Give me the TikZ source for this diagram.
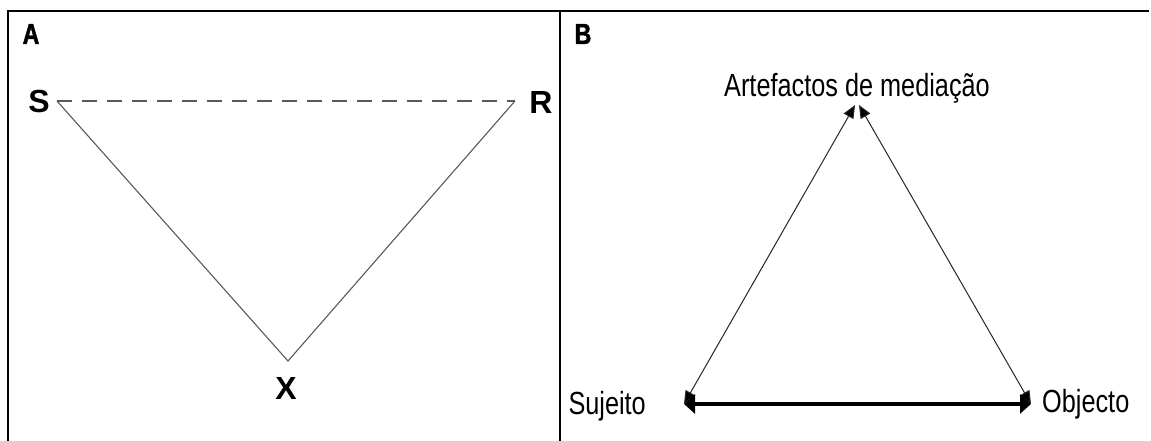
\documentclass[tikz,border=0pt]{standalone}
\usepackage{fontspec}
\setmainfont{Liberation Sans}
\newfontfamily\narrowfont[FakeStretch=0.79]{Liberation Sans}
\newfontfamily\panelfont[FakeStretch=0.8,BoldFeatures={FakeBold=1.5}]{Liberation Sans}
\usetikzlibrary{arrows.meta}
\begin{document}
\begin{tikzpicture}[x=1pt,y=-1pt,
  frame/.style={line width=2pt,black},
  panellabel/.style={inner sep=0pt,font=\panelfont\bfseries\fontsize{29}{34}\selectfont},
  vlabel/.style={inner sep=0pt,font=\bfseries\fontsize{32}{37}\selectfont},
  tlabel/.style={inner sep=0pt,font=\narrowfont\fontsize{32}{38}\selectfont},
  thinline/.style={line width=1.1pt,black!65},
  medline/.style={line width=1pt,black!85,{Triangle[length=13pt,width=11pt,fill=black]}-{Triangle[length=13pt,width=11pt,fill=black]}},
  thickline/.style={line width=3.2pt,black,{Triangle[length=11pt,width=19pt]}-{Triangle[length=11pt,width=19pt]}}
]
\useasboundingbox (0,0) rectangle (1151,441);
% frame
\coordinate (tl) at (8,11);
\coordinate (tr) at (1149,11);
\coordinate (bl) at (8,441);
\coordinate (mt) at (560,11);
\coordinate (mb) at (560,441);
\draw[frame] (bl) -- (tl) -- (tr);
\draw[frame] (mt) -- (mb);
% panel labels
\node[panellabel] (la) at (31,34) {A};
\node[panellabel] (lb) at (583,34) {B};
% panel A
\coordinate (s) at (57,101);
\coordinate (r) at (515,101);
\coordinate (x) at (288,361);
\draw[thinline,dash pattern=on 15pt off 10pt] (s) -- (r);
\draw[thinline] (s) -- (x) -- (r);
\node[vlabel] (ls) at (39,101) {S};
\node[vlabel] (lr) at (541,102) {R};
\node[vlabel] (lx) at (286,388) {X};
% panel B
\coordinate (al) at (855,105);
\coordinate (ar) at (859,105);
\coordinate (sj) at (684,404);
\coordinate (ob) at (1031,404);
\node[tlabel] (art) at (857,88) {Artefactos de mediação};
\node[tlabel,anchor=east] (suj) at (646,406) {Sujeito};
\node[tlabel,anchor=west] (obj) at (1042,404) {Objecto};
\draw[medline] (sj) -- (al);
\draw[medline] (ob) -- (ar);
\draw[thickline] (sj) -- (ob);
\end{tikzpicture}
\end{document}
